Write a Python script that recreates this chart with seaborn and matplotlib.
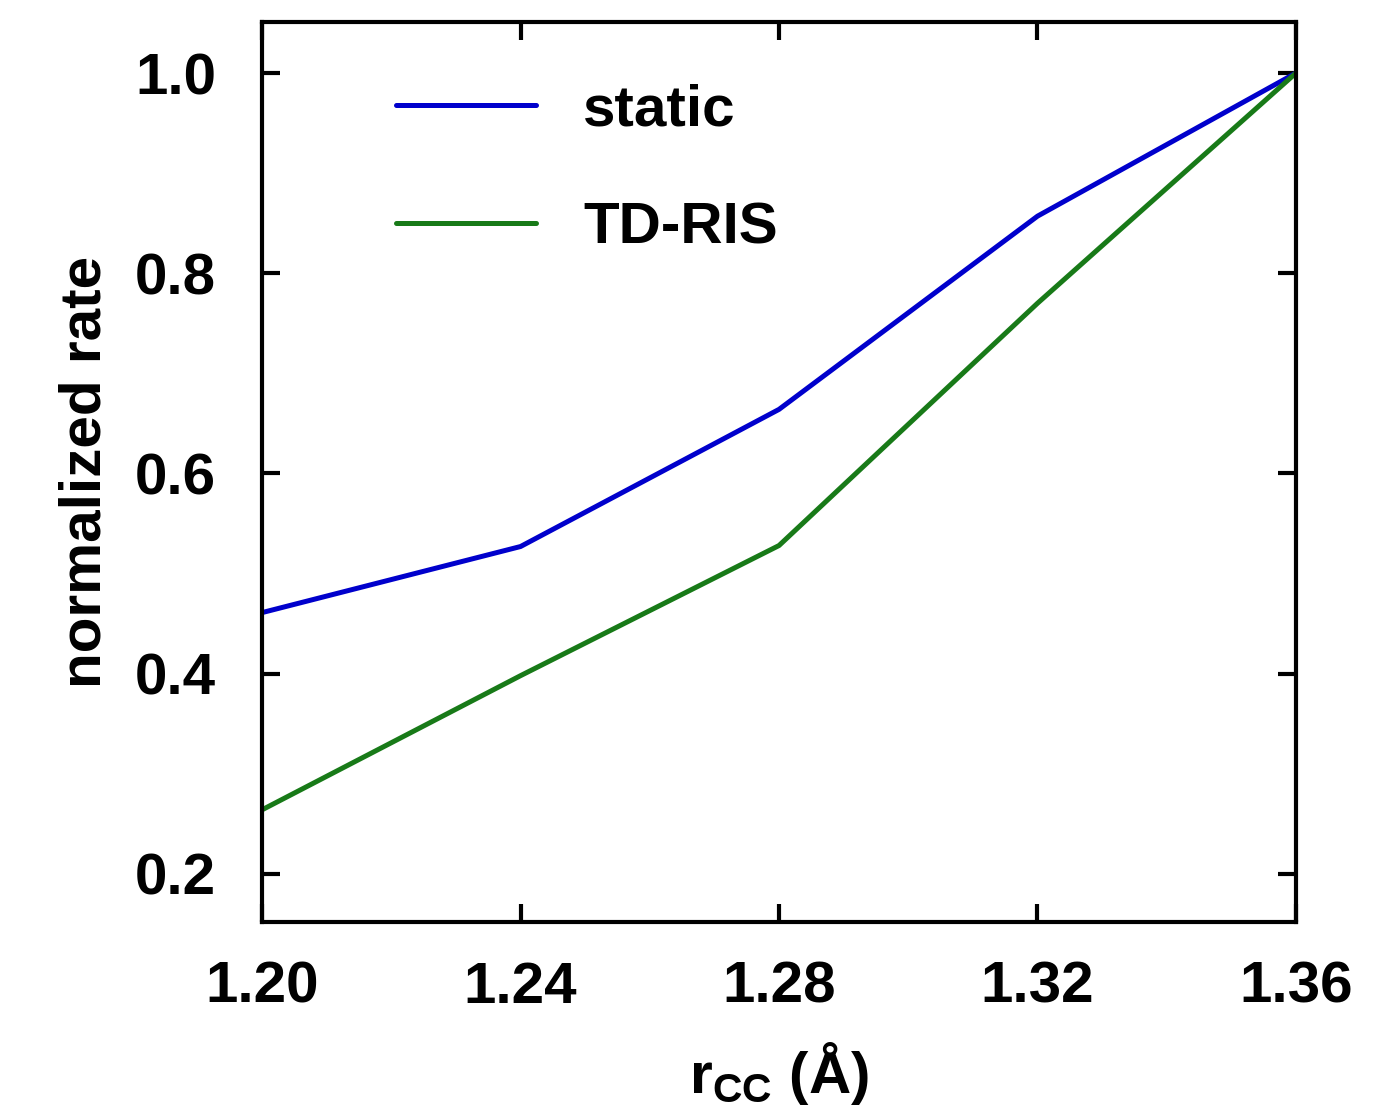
import pandas as pd
import numpy as np
import matplotlib
matplotlib.use("Agg")
import matplotlib.pyplot as plt
import seaborn as sns

r_cc = [1.20, 1.24, 1.28, 1.32, 1.36]
static = [0.461, 0.527, 0.664, 0.857, 1.0]
td_ris = [0.264, 0.398, 0.528, 0.770, 1.0]
series_names = ['static', 'TD-RIS']
line_colors = ['#0000cc', '#187a18']
x_ticks = [1.20, 1.24, 1.28, 1.32, 1.36]
y_ticks = [0.2, 0.4, 0.6, 0.8, 1.0]

df = pd.DataFrame({
    'r': r_cc * 2,
    'rate': static + td_ris,
    'method': [series_names[0]] * len(r_cc) + [series_names[1]] * len(r_cc),
})

sns.set_style("ticks")
plt.rcParams['font.family'] = ['Liberation Sans', 'DejaVu Sans']
plt.rcParams['font.weight'] = 'bold'
plt.rcParams['mathtext.default'] = 'regular'
plt.rcParams['text.color'] = 'black'
plt.rcParams['axes.labelcolor'] = 'black'
plt.rcParams['xtick.color'] = 'black'
plt.rcParams['ytick.color'] = 'black'
plt.rcParams['axes.edgecolor'] = 'black'

fs = 42

fig = plt.figure(figsize=(13.88, 11.14), dpi=100)
ax = fig.add_axes([0.1888, 0.1724, 0.7449, 0.8079])

sns.lineplot(data=df, x='r', y='rate', hue='method', palette=line_colors,
             linewidth=3.6, ax=ax)

ax.set_xlim(1.20, 1.36)
ax.set_ylim(0.152, 1.051)
ax.set_xticks(x_ticks)
ax.set_xticklabels(['%.2f' % t for t in x_ticks])
ax.set_yticks(y_ticks)
ax.set_yticklabels(['%.1f' % t for t in y_ticks])

for s in ax.spines.values():
    s.set_linewidth(3)
    s.set_visible(True)
ax.tick_params(direction='in', length=13, width=3, labelsize=fs,
               top=True, right=True)
ax.tick_params(axis='x', pad=28)
ax.tick_params(axis='y', pad=33)
for lab in ax.get_xticklabels() + ax.get_yticklabels():
    lab.set_fontweight('bold')

ax.set_xlabel(r'r$_{CC}$ (Å)', fontsize=fs, fontweight='bold', labelpad=18)
ax.set_ylabel('normalized rate', fontsize=fs, fontweight='bold', labelpad=16)

ax.legend(loc='upper left', bbox_to_anchor=(0.079, 0.99), frameon=False,
          handlelength=2.4, handletextpad=0.8, labelspacing=1.1,
          prop={'weight': 'bold', 'size': fs})

plt.savefig("out.png", dpi=100)
